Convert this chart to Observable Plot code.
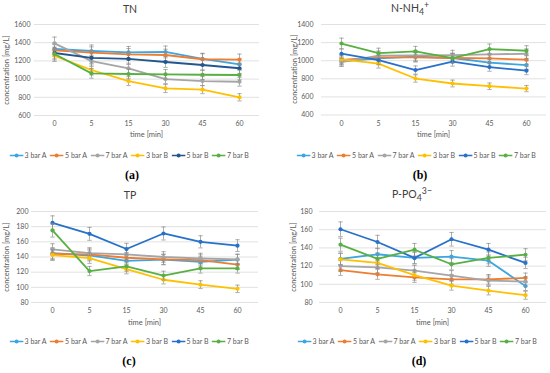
<!DOCTYPE html>
<html><head><meta charset="utf-8">
<script src="https://cdn.jsdelivr.net/npm/d3@7"></script>
<script src="https://cdn.jsdelivr.net/npm/@observablehq/plot@0.6"></script>
<style>
body{margin:0;background:#fff;font-family:Lato,"Open Sans",sans-serif;}
#root{position:relative;width:550px;height:373px;overflow:hidden;background:#fff;}
.panel{position:absolute;width:275px;height:186px;}
.c{position:absolute;transform:translate(-50%,-50%);white-space:nowrap;line-height:1;}
.title{font-size:10.5px;color:#404040;}
.xl{font-size:7.5px;color:#595959;}
.yl{font-size:7.5px;color:#595959;transform:translate(-50%,-50%) rotate(-90deg);}
.legend{display:flex;align-items:center;font-size:7px;color:#595959;}
.legend .it{display:flex;align-items:center;margin-right:3.5px;}
.legend svg{margin-right:1px;}
.letter{font-family:"Liberation Serif","DejaVu Serif",serif;font-weight:bold;font-size:12px;color:#000;}
.plot{position:absolute;left:0;top:0;}
</style></head><body><div id="root"></div>
<script>
// ---- data ----
const times = ["0", "5", "15", "30", "45", "60"];
const seriesNames = ["3 bar A", "5 bar A", "7 bar A", "3 bar B", "5 bar B", "7 bar B"];
const errPct = 0.05; // Excel percentage error bars

const TN = [
  [1333, 1309, 1294, 1298, 1222, 1163],
  [1315, 1290, 1272, 1265, 1218, 1214],
  [1392, 1197, 1119, 1000, 978, 971],
  [1256, 1100, 978, 897, 884, 800],
  [1287, 1234, 1222, 1188, 1155, 1119],
  [1275, 1063, 1056, 1052, 1048, 1045]
];
const NH4 = [
  [993, 1026, 1044, 1030, 978, 952],
  [1010, 1037, 1037, 1030, 1026, 1011],
  [985, 1055, 1058, 1062, 1070, 1077],
  [1015, 967, 803, 748, 718, 692],
  [1077, 1007, 897, 989, 930, 890],
  [1190, 1084, 1103, 1029, 1128, 1110]
];
const TP = [
  [145, 142, 135, 136.5, 133.5, 136.5],
  [144, 143.5, 139, 137, 136, 130],
  [150, 145, 143.5, 140, 138, 137],
  [142.5, 138.5, 124, 110, 103.5, 98],
  [185, 170.5, 150.5, 171, 160, 155],
  [175, 121.5, 127.5, 115.5, 125, 125]
];
const PO4 = [
  [128, 133, 129, 130.5, 126, 98],
  [115.5, 111, 107.5, 105.5, 105.5, 107],
  [120, 118.5, 115, 109.5, 104, 103],
  [127.5, 123.5, 110, 98.5, 93, 88],
  [160.5, 146.5, 129, 149.5, 138, 123.5],
  [143.5, 128, 138, 122, 129, 132.5]
];
const tnTicks = [600, 800, 1000, 1200, 1400, 1600];
const nh4Ticks = [400, 600, 800, 1000, 1200, 1400];
const tpTicks = [80, 100, 120, 140, 160, 180, 200];
const po4Ticks = [80, 100, 120, 140, 160, 180];

const colorsA = ["#3DA5E0", "#ED7D31", "#A5A5A5", "#FFC000", "#22568F", "#58B043"];
const colorsB = ["#3DA5E0", "#ED7D31", "#A5A5A5", "#FFC000", "#2771C9", "#58B043"];

const panels = [
  {ox: 0, oy: 0, title: "TN", values: TN, ticks: tnTicks, colors: colorsA, letter: "(a)",
   fl: 34, fr: 259, ft: 24, fb: 115, pad: 4, tcx: 130, ylx: 7, lcx: 131, letx: 132, xly: 135},
  {ox: 275, oy: 0, title: "N-NH<sub>4</sub><sup>+</sup>", values: NH4, ticks: nh4Ticks, colors: colorsB, letter: "(b)",
   fl: 46, fr: 271, ft: 24, fb: 114.5, pad: 8, tcx: 135, ylx: 20, lcx: 143, letx: 145, xly: 135},
  {ox: 0, oy: 186, title: "TP", values: TP, ticks: tpTicks, colors: colorsB, letter: "(c)",
   fl: 31, fr: 258, ft: 25, fb: 116, pad: 3, tcx: 130, ylx: 7, lcx: 131, letx: 129, xly: 137},
  {ox: 275, oy: 186, title: "P-PO<sub>4</sub><sup>3−</sup>", values: PO4, ticks: po4Ticks, colors: colorsB, letter: "(d)",
   fl: 44, fr: 271, ft: 25, fb: 116, pad: 7, tcx: 137, ylx: 19, lcx: 144, letx: 144, xly: 137}
];

const capSymbol = {draw(ctx) { ctx.moveTo(-2.2, 0); ctx.lineTo(2.2, 0); }};
const root = document.getElementById("root");
const H = 145;

function el(cls, html, x, y, parent) {
  const d = document.createElement("div");
  d.className = "c " + cls;
  d.innerHTML = html;
  d.style.left = x + "px";
  d.style.top = y + "px";
  parent.appendChild(d);
  return d;
}

panels.forEach(cfg => {
  const div = document.createElement("div");
  div.className = "panel";
  div.style.left = cfg.ox + "px";
  div.style.top = cfg.oy + "px";
  root.appendChild(div);

  const marks = [Plot.gridY(cfg.ticks, {stroke: "#d9d9d9", strokeOpacity: 1, strokeWidth: 0.8})];
  seriesNames.forEach((s, i) => {
    const d = cfg.values[i].map((v, j) => ({t: times[j], v}));
    marks.push(Plot.ruleX(d, {x: "t", y1: r => r.v * (1 - errPct), y2: r => r.v * (1 + errPct), stroke: "#8c8c8c", strokeWidth: 0.7}));
    marks.push(Plot.dot(d, {x: "t", y: r => r.v * (1 + errPct), symbol: capSymbol, r: 2, stroke: "#8c8c8c", strokeWidth: 0.7, fill: "none"}));
    marks.push(Plot.dot(d, {x: "t", y: r => r.v * (1 - errPct), symbol: capSymbol, r: 2, stroke: "#8c8c8c", strokeWidth: 0.7, fill: "none"}));
    marks.push(Plot.line(d, {x: "t", y: "v", stroke: cfg.colors[i], strokeWidth: 1.8}));
    marks.push(Plot.dot(d, {x: "t", y: "v", fill: cfg.colors[i], r: 2.1}));
  });
  marks.push(Plot.axisX({tickSize: 0, tickPadding: 6, label: null, fontSize: 7, fill: "#595959"}));
  marks.push(Plot.axisY(cfg.ticks, {tickSize: 0, tickPadding: cfg.pad, label: null, fontSize: 7, fill: "#595959", tickFormat: d => String(d)}));

  const plot = Plot.plot({
    width: 275, height: H,
    marginLeft: cfg.fl, marginRight: 275 - cfg.fr, marginTop: cfg.ft, marginBottom: H - cfg.fb,
    x: {type: "point", domain: times, padding: 0.5},
    y: {domain: [cfg.ticks[0], cfg.ticks[cfg.ticks.length - 1]]},
    style: {fontFamily: "Lato, sans-serif", fontSize: "7px", color: "#595959", background: "transparent", overflow: "visible"},
    marks
  });
  plot.classList.add("plot");
  div.appendChild(plot);

  el("title", cfg.title, cfg.tcx, 9, div);
  el("xl", "time [min]", (cfg.fl + cfg.fr) / 2, cfg.xly, div);
  el("yl", "concentration [mg/L]", cfg.ylx, (cfg.ft + cfg.fb) / 2, div);

  const lg = el("legend", "", cfg.lcx, 155, div);
  seriesNames.forEach((s, i) => {
    const it = document.createElement("div");
    it.className = "it";
    it.innerHTML = `<svg width="14" height="6"><line x1="0" x2="14" y1="3" y2="3" stroke="${cfg.colors[i]}" stroke-width="1.6"/><circle cx="7" cy="3" r="2" fill="${cfg.colors[i]}"/></svg><span>${s}</span>`;
    lg.appendChild(it);
  });
  el("letter", cfg.letter, cfg.letx, 175, div);
});
</script></body></html>
